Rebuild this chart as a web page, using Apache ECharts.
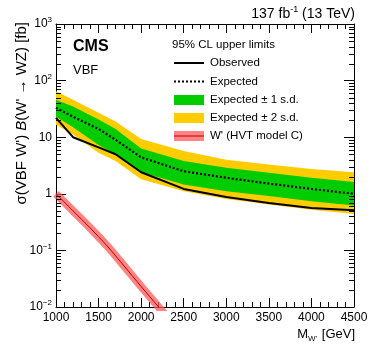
<!DOCTYPE html>
<html>
<head>
<meta charset="utf-8">
<script src="https://cdn.jsdelivr.net/npm/echarts@6/dist/echarts.min.js"></script>
<style>
  html, body { margin: 0; padding: 0; background: #fff; }
  #chart { width: 374px; height: 362px; }
</style>
</head>
<body>
<div id="chart"></div>
<script>
// W' mass points [GeV]
var mass = [1000, 1200, 1500, 1700, 2000, 2500, 3000, 3500, 4000, 4500];
// 95% CL upper limits [fb]
var observed = [22, 10, 6.6, 5.0, 2.4, 1.22, 0.88, 0.69, 0.56, 0.51];
var expected = [33, 23, 14, 9.0, 4.4, 2.5, 1.92, 1.51, 1.22, 1.0];
var exp1Lo = [23, 15, 7.3, 5.0, 2.4, 1.46, 1.11, 0.91, 0.74, 0.62];
var exp1Hi = [46, 35, 20.6, 14, 6.3, 3.8, 2.9, 2.35, 1.92, 1.62];
var exp2Lo = [16.6, 11.2, 5.3, 3.8, 1.8, 1.11, 0.81, 0.65, 0.52, 0.44];
var exp2Hi = [65, 46, 27, 19, 9.3, 5.7, 4.0, 3.3, 2.75, 2.4];
// HVT model C prediction
var theoryMass = [1000, 1200, 1400, 1600, 1800, 2000, 2200, 2400];
var theoryXsec = [1.0, 0.5, 0.25, 0.12, 0.053, 0.023, 0.0102, 0.0045];

var FONT = '"Liberation Sans", Arial, sans-serif';

function bandData(lo, hi) {
    var out = [];
    for (var i = 0; i < mass.length; i++) {
        out.push([mass[i], lo[i], hi[i]]);
    }
    return out;
}

// whole band drawn once as a polygon, via the axis scales
function bandRenderer(lo, hi, color) {
    return function (params, api) {
        if (params.dataIndex !== 0) {
            return null;
        }
        var pts = [];
        for (var i = 0; i < mass.length; i++) {
            pts.push(api.coord([mass[i], hi[i]]));
        }
        for (var j = mass.length - 1; j >= 0; j--) {
            pts.push(api.coord([mass[j], lo[j]]));
        }
        return {
            type: 'polygon',
            shape: { points: pts },
            style: { fill: color, stroke: null }
        };
    };
}

// log minor ticks 2..9 per decade (left and right frame)
var minorLeft = [], minorRight = [];
for (var d = -2; d <= 2; d++) {
    for (var k = 2; k <= 9; k++) {
        minorLeft.push([1000, k * Math.pow(10, d)]);
        minorRight.push([4500, k * Math.pow(10, d)]);
    }
}

function tickRenderer(dir) {
    return function (params, api) {
        var p = api.coord([api.value(0), api.value(1)]);
        var y = Math.round(p[1]) + 0.5;
        return {
            type: 'line',
            shape: { x1: p[0], y1: y, x2: p[0] + dir * 5, y2: y },
            style: { stroke: '#000', lineWidth: 1 }
        };
    };
}

function supLabel(v) {
    var e = Math.round(Math.log10(v));
    if (e === 0) return '1';
    if (e === 1) return '10';
    return '{b|10}{s|' + (e < 0 ? '\u2212' + (-e) : e) + '}';
}

var labelRich = {
    b: { fontFamily: FONT, fontSize: 12, color: '#000' },
    s: { fontFamily: FONT, fontSize: 8, color: '#000', padding: [0, 0, 8, 0] }
};

var chart = echarts.init(document.getElementById('chart'), null, { renderer: 'canvas' });

var option = {
    animation: false,
    backgroundColor: '#fff',
    grid: { left: 56, right: 20, top: 24, bottom: 55 },
    xAxis: [{
        type: 'value', min: 1000, max: 4500, interval: 500,
        axisLine: { show: true, lineStyle: { color: '#000', width: 1 } },
        axisTick: { show: true, inside: true, length: 9, lineStyle: { color: '#000' } },
        minorTick: { show: true, splitNumber: 5, length: 5, lineStyle: { color: '#000' } },
        splitLine: { show: false },
        axisLabel: {
            fontFamily: FONT, fontSize: 12, color: '#000', margin: 5,
            formatter: function (v) { return String(v); }
        }
    }, {
        type: 'value', min: 1000, max: 4500, interval: 500, position: 'top',
        axisLine: { show: true, onZero: false, lineStyle: { color: '#000', width: 1 } },
        axisTick: { show: true, inside: true, length: 9, lineStyle: { color: '#000' } },
        minorTick: { show: true, splitNumber: 5, length: 5, lineStyle: { color: '#000' } },
        splitLine: { show: false },
        axisLabel: { show: false }
    }],
    yAxis: [{
        type: 'log', logBase: 10, min: 0.01, max: 1000,
        axisLine: { show: true, lineStyle: { color: '#000', width: 1 } },
        axisTick: { show: true, inside: true, length: 10, lineStyle: { color: '#000' } },
        splitLine: { show: false },
        axisLabel: {
            fontFamily: FONT, fontSize: 12, color: '#000', margin: 4,
            formatter: supLabel, rich: labelRich
        }
    }, {
        type: 'log', logBase: 10, min: 0.01, max: 1000, position: 'right',
        axisLine: { show: true, onZero: false, lineStyle: { color: '#000', width: 1 } },
        axisTick: { show: true, inside: true, length: 10, lineStyle: { color: '#000' } },
        splitLine: { show: false },
        axisLabel: { show: false }
    }],
    series: [
        {
            name: 'Expected \u00b1 2 s.d.',
            type: 'custom',
            renderItem: bandRenderer(exp2Lo, exp2Hi, '#ffcc00'),
            data: bandData(exp2Lo, exp2Hi),
            encode: { x: 0, y: [1, 2] },
            z: 1
        },
        {
            name: 'Expected \u00b1 1 s.d.',
            type: 'custom',
            renderItem: bandRenderer(exp1Lo, exp1Hi, '#00cc00'),
            data: bandData(exp1Lo, exp1Hi),
            encode: { x: 0, y: [1, 2] },
            z: 2
        },
        {
            name: 'Expected',
            type: 'line',
            data: mass.map(function (m, i) { return [m, expected[i]]; }),
            symbol: 'none',
            lineStyle: { color: '#000', width: 2.2, type: [2, 2] },
            z: 4
        },
        {
            name: 'Observed',
            type: 'line',
            data: mass.map(function (m, i) { return [m, observed[i]]; }),
            symbol: 'none',
            lineStyle: { color: '#000', width: 2 },
            z: 5
        },
        {
            name: "W' band",
            type: 'line',
            data: theoryMass.map(function (m, i) { return [m, theoryXsec[i]]; }),
            symbol: 'none',
            smooth: 0.3,
            lineStyle: { color: 'rgba(255,90,90,0.75)', width: 8 },
            z: 3
        },
        {
            name: "W' (HVT model C)",
            type: 'line',
            data: theoryMass.map(function (m, i) { return [m, theoryXsec[i]]; }),
            symbol: 'none',
            smooth: 0.3,
            lineStyle: { color: '#b00000', width: 1 },
            z: 3
        },
        {
            name: 'minor ticks left',
            type: 'custom',
            silent: true,
            data: minorLeft,
            encode: { x: 0, y: 1 },
            renderItem: tickRenderer(1),
            z: 10
        },
        {
            name: 'minor ticks right',
            type: 'custom',
            silent: true,
            data: minorRight,
            encode: { x: 0, y: 1 },
            renderItem: tickRenderer(-1),
            z: 10
        }
    ],
    graphic: [
        // header
        {
            type: 'text', right: 19, top: 5,
            style: {
                text: '{a|137 fb}{s|-1}{a| (13 TeV)}',
                rich: {
                    a: { fontFamily: FONT, fontSize: 14, fill: '#000' },
                    s: { fontFamily: FONT, fontSize: 9, fill: '#000', padding: [0, 0, 9, 0] }
                }
            }
        },
        { type: 'text', left: 73, top: 39, style: { text: 'CMS', fontFamily: FONT, fontSize: 16, fontWeight: 'bold', fill: '#000' } },
        { type: 'text', left: 73, top: 64, style: { text: 'VBF', fontFamily: FONT, fontSize: 13, fill: '#000' } },
        // legend
        { type: 'text', left: 172, top: 39, style: { text: '95% CL upper limits', fontFamily: FONT, fontSize: 11.5, fill: '#000' } },
        { type: 'line', shape: { x1: 174, y1: 63, x2: 204, y2: 63 }, style: { stroke: '#000', lineWidth: 2 } },
        { type: 'text', left: 210, top: 57, style: { text: 'Observed', fontFamily: FONT, fontSize: 11.5, fill: '#000' } },
        { type: 'line', shape: { x1: 174, y1: 81.5, x2: 204, y2: 81.5 }, style: { stroke: '#000', lineWidth: 2, lineDash: [2, 2] } },
        { type: 'text', left: 210, top: 75.5, style: { text: 'Expected', fontFamily: FONT, fontSize: 11.5, fill: '#000' } },
        { type: 'rect', shape: { x: 174, y: 95, width: 30, height: 10 }, style: { fill: '#00cc00' } },
        { type: 'text', left: 210, top: 94, style: { text: 'Expected \u00b1 1 s.d.', fontFamily: FONT, fontSize: 11.5, fill: '#000' } },
        { type: 'rect', shape: { x: 174, y: 113, width: 30, height: 10 }, style: { fill: '#ffcc00' } },
        { type: 'text', left: 210, top: 112, style: { text: 'Expected \u00b1 2 s.d.', fontFamily: FONT, fontSize: 11.5, fill: '#000' } },
        { type: 'rect', shape: { x: 174, y: 131, width: 30, height: 10 }, style: { fill: 'rgba(255,90,90,0.75)' } },
        { type: 'line', shape: { x1: 174, y1: 136, x2: 204, y2: 136 }, style: { stroke: '#b00000', lineWidth: 1 } },
        { type: 'text', left: 210, top: 130, style: { text: "W' (HVT model C)", fontFamily: FONT, fontSize: 11.5, fill: '#000' } },
        // axis titles
        {
            type: 'text', right: 19, top: 328,
            style: {
                text: '{a|M}{s|W\'}{a| [GeV]}',
                rich: {
                    a: { fontFamily: FONT, fontSize: 13, fill: '#000' },
                    s: { fontFamily: FONT, fontSize: 8, fill: '#000', padding: [8, 1, 0, 0] }
                }
            }
        },
        {
            type: 'text', x: 14, y: 22, rotation: Math.PI / 2,
            style: {
                text: "{a|\u03c3(VBF W') }{i|B}{a|(W' \u2192 WZ) [fb]}",
                align: 'right', verticalAlign: 'top',
                rich: {
                    a: { fontFamily: FONT, fontSize: 15, fill: '#000' },
                    i: { fontFamily: FONT, fontSize: 15, fontStyle: 'italic', fill: '#000' }
                }
            }
        }
    ]
};

chart.setOption(option);
</script>
</body>
</html>
